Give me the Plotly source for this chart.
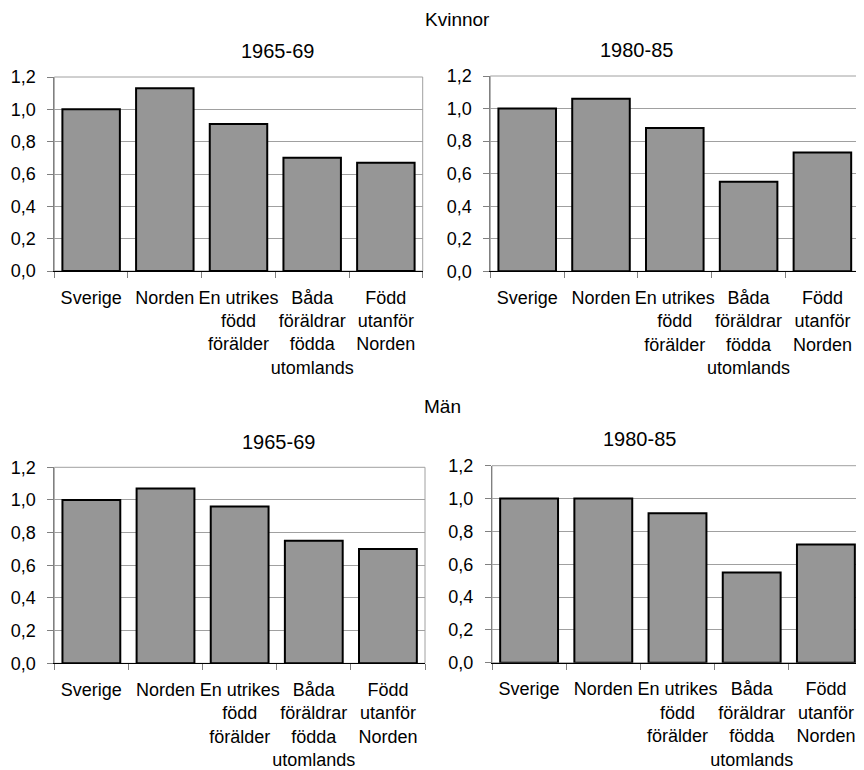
import plotly.graph_objects as go

categories = ["Sverige", "Norden", "En utrikes<br>född<br>förälder",
              "Båda<br>föräldrar<br>födda<br>utomlands", "Född<br>utanför<br>Norden"]
kvinnor_1965_69 = [1.00, 1.13, 0.91, 0.70, 0.67]
kvinnor_1980_85 = [1.00, 1.06, 0.88, 0.55, 0.73]
man_1965_69 = [1.00, 1.07, 0.96, 0.75, 0.70]
man_1980_85 = [1.00, 1.00, 0.91, 0.55, 0.72]
panel_titles = ["1965-69", "1980-85", "1965-69", "1980-85"]
group_titles = ["Kvinnor", "Män"]
y_ticks = [0.0, 0.2, 0.4, 0.6, 0.8, 1.0, 1.2]

FONT = "Liberation Sans, Arial, sans-serif"
OFF = 8  # page body margin
W, H = 864 - OFF, 770 - OFF


def dx(px):
    return (px - OFF) / W


def dy(py):
    return 1 - (py - OFF) / H


fig = go.Figure()

# (values, left, right, top, bottom) in reference pixels
panels = [
    (kvinnor_1965_69, 54.3, 422.7, 77.0, 271.0),
    (kvinnor_1980_85, 490.3, 859.3, 76.0, 271.3),
    (man_1965_69, 54.3, 425.0, 467.3, 663.3),
    (man_1980_85, 492.0, 863.0, 465.7, 662.7),
]
title_y = [50.8, 50.0, 441.5, 438.5]

for i, (vals, l, r, t, b) in enumerate(panels):
    n = "" if i == 0 else str(i + 1)
    xd = [dx(l), dx(r)]
    yd = [dy(b), dy(t)]
    fig.add_trace(go.Bar(
        x=categories, y=vals, xaxis="x" + n, yaxis="y" + n,
        marker=dict(color="#969696", line=dict(color="black", width=2)),
        showlegend=False,
    ))
    fig.update_layout(**{
        "xaxis" + n: dict(domain=xd, anchor="y" + n, showline=True, linecolor="black",
                          linewidth=1, ticks="outside", tickson="boundaries",
                          ticklen=6, tickcolor="#808080", showgrid=False,
                          ticklabelstandoff=10,
                          tickfont=dict(family=FONT, size=18, color="black"),
                          tickangle=0, automargin=False, fixedrange=True),
        "yaxis" + n: dict(domain=yd, anchor="x" + n, range=[0, 1.2], tickvals=y_ticks,
                          tickformat=".1f", showline=True, linecolor="#808080",
                          linewidth=1, ticks="outside", ticklen=6, tickcolor="#808080",
                          showgrid=True, gridcolor="#a0a0a0", gridwidth=1,
                          zeroline=False, ticklabelstandoff=8,
                          tickfont=dict(family=FONT, size=18, color="black"),
                          automargin=False, fixedrange=True),
    })
    fig.add_shape(type="rect", xref="x" + n + " domain", yref="y" + n + " domain",
                  x0=0, x1=1, y0=0, y1=1, line=dict(color="#a0a0a0", width=1),
                  layer="below")
    xc = (dx(l) + dx(r)) / 2
    fig.add_annotation(text=panel_titles[i], xref="paper", yref="paper",
                       x=xc, y=dy(title_y[i]), yanchor="middle", showarrow=False,
                       font=dict(family=FONT, size=20, color="black"))

fig.add_annotation(text=group_titles[0], xref="paper", yref="paper", x=dx(423),
                   xanchor="left", y=dy(19), yanchor="middle", showarrow=False,
                   font=dict(family=FONT, size=19, color="black"))
fig.add_annotation(text=group_titles[1], xref="paper", yref="paper", x=dx(422),
                   xanchor="left", y=dy(407), yanchor="middle", showarrow=False,
                   font=dict(family=FONT, size=19, color="black"))

fig.update_layout(width=W, height=H, margin=dict(l=0, r=0, t=0, b=0),
                  paper_bgcolor="white", plot_bgcolor="white", bargap=0.22,
                  separators=", ", font=dict(family=FONT, color="black"))
fig.write_html("out.html")
